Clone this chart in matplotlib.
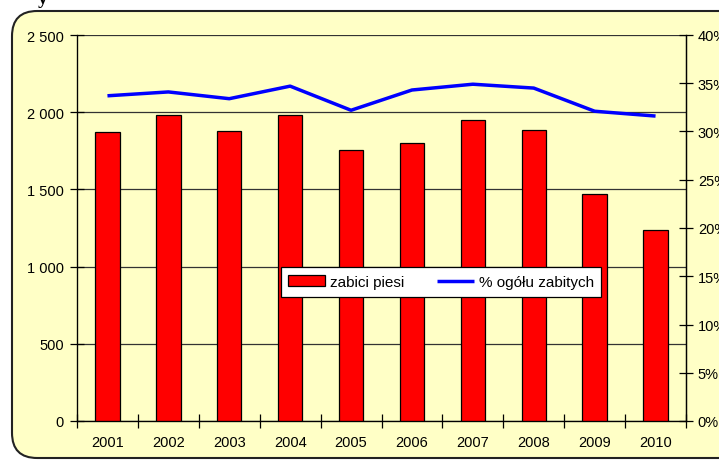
import matplotlib
matplotlib.use("Agg")
import matplotlib.pyplot as plt
from matplotlib.patches import FancyBboxPatch
from matplotlib.ticker import FixedLocator, FuncFormatter
import numpy as np

years = ["2001", "2002", "2003", "2004", "2005", "2006", "2007", "2008", "2009", "2010"]
killed_pedestrians = [1872, 1982, 1878, 1982, 1755, 1800, 1950, 1885, 1470, 1240]
share_pct = [33.7, 34.1, 33.4, 34.7, 32.2, 34.3, 34.9, 34.5, 32.1, 31.6]
left_ticks = [0, 500, 1000, 1500, 2000, 2500]
right_ticks = [0, 5, 10, 15, 20, 25, 30, 35, 40]

plt.rcParams['font.family'] = ['Liberation Sans', 'DejaVu Sans']
W, H = 719, 464
fig = plt.figure(figsize=(W / 100, H / 100), dpi=100)
bg = '#FFFFC6'
FS = 10.5

# rounded chart frame
box = FancyBboxPatch((12 / W, 5 / H), (W + 30 - 12) / W, (H - 12 - 5) / H,
                     boxstyle="round,pad=0,rounding_size=0.035",
                     transform=fig.transFigure, facecolor=bg, edgecolor='#222222',
                     linewidth=1.5, zorder=-5, mutation_aspect=W / H)
fig.patches.append(box)
fig.text(38 / W, 1 - 8 / H, "y", fontsize=14, fontweight='bold', family='Liberation Serif',
         ha='left', va='bottom')

left, right, top, bottom = 77, 686, 36, 422
ax = fig.add_axes([left / W, 1 - bottom / H, (right - left) / W, (bottom - top) / H])
ax.set_facecolor('none')
x = np.arange(len(years))
bars = ax.bar(x, killed_pedestrians, width=0.4, color='#FF0000', edgecolor='black',
              linewidth=0.9, zorder=3, label='zabici piesi')
ax.set_xlim(-0.5, len(years) - 0.5)
ax.set_ylim(0, 2500)
ax.yaxis.set_major_locator(FixedLocator(left_ticks))
ax.yaxis.set_major_formatter(FuncFormatter(lambda v, p: f"{int(v):,}".replace(",", " ")))
ax.grid(axis='y', color='#333333', linewidth=0.9, zorder=1)
ax.set_axisbelow(True)
ax.set_xticks(x)
ax.set_xticklabels(years)
ax.set_xticks(np.arange(-0.5, len(years), 1), minor=True)
ax.tick_params(axis='x', which='major', length=0, pad=10, labelsize=FS)
ax.tick_params(axis='x', which='minor', length=10, direction='inout', width=0.9)
ax.tick_params(axis='y', length=10, direction='inout', width=0.9, labelsize=FS, pad=4.5)
ax.spines['top'].set_visible(False)
for s in ['left', 'right', 'bottom']:
    ax.spines[s].set_linewidth(0.9)

ax2 = ax.twinx()
line, = ax2.plot(x, share_pct, color='#0000FF', linewidth=2.5, zorder=4,
                 label='% ogółu zabitych', solid_capstyle='butt')
ax2.set_ylim(0, 40)
ax2.yaxis.set_major_locator(FixedLocator(right_ticks))
ax2.yaxis.set_major_formatter(FuncFormatter(lambda v, p: f"{int(v)}%"))
ax2.tick_params(axis='y', length=10, direction='inout', width=0.9, labelsize=FS, pad=3.5)
ax2.spines['top'].set_visible(False)
ax2.spines['right'].set_linewidth(0.9)

leg = fig.legend([bars, line], ['zabici piesi', '% ogółu zabitych'], ncol=2,
                 loc='center', bbox_to_anchor=(441 / W, 1 - 283 / H),
                 frameon=True, fancybox=False, edgecolor='black', facecolor='white',
                 framealpha=1, fontsize=11, handlelength=2.4, handleheight=0.7,
                 columnspacing=2.2, handletextpad=0.3, borderpad=0.5)
leg.get_frame().set_linewidth(0.9)
leg.set_zorder(10)

fig.savefig('out.png', dpi=100)
